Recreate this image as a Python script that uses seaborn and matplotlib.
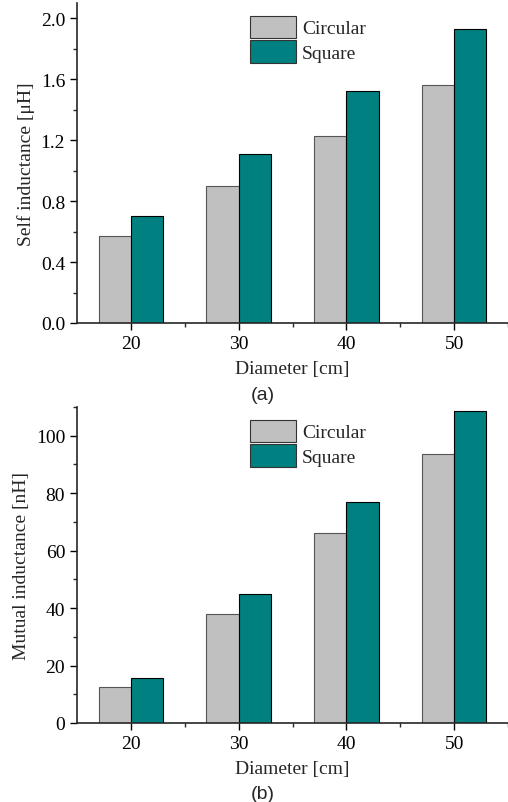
import pandas as pd
import matplotlib
matplotlib.use("Agg")
import matplotlib.pyplot as plt
import seaborn as sns
from matplotlib.ticker import MultipleLocator, FixedLocator

# data
diameters = [20, 30, 40, 50]
shapes = ["Circular", "Square"]
self_circular = [0.57, 0.90, 1.23, 1.56]
self_square = [0.70, 1.11, 1.52, 1.93]
mutual_circular = [12.7, 37.8, 66.3, 93.7]
mutual_square = [15.5, 44.9, 77.1, 108.5]

colors = {"Circular": "#C0C0C0", "Square": "#008080"}

sns.set_style("ticks")
plt.rcParams["font.family"] = ["Liberation Serif", "DejaVu Serif"]
plt.rcParams["font.size"] = 14


def make_df(circ, sq):
    return pd.DataFrame({
        "Diameter": diameters * 2,
        "Shape": ["Circular"] * 4 + ["Square"] * 4,
        "Value": circ + sq,
    })


fig = plt.figure(figsize=(5.08, 8.03), dpi=100)
W, H = 508, 803
ax1 = fig.add_axes([77 / W, 1 - 324 / H, 431 / W, 320 / H])
ax2 = fig.add_axes([77 / W, 1 - 724 / H, 431 / W, 316 / H])

panels = [
    (ax1, make_df(self_circular, self_square), "Self inductance [μH]", (0, 2.1), 0.4, 0.2, "(a)"),
    (ax2, make_df(mutual_circular, mutual_square), "Mutual inductance [nH]", (0, 110), 20, 10, "(b)"),
]

for ax, df, ylabel, ylim, major, minor, tag in panels:
    sns.barplot(data=df, x="Diameter", y="Value", hue="Shape", native_scale=True,
                width=0.6, palette=colors, hue_order=shapes, ax=ax,
                edgecolor="black", linewidth=0.8, saturation=1, errorbar=None)
    # circular bars have a grey outline in the original
    for bar in ax.patches[:4]:
        bar.set_edgecolor("#555555")
    ax.set_xlim(15, 55)
    ax.set_ylim(*ylim)
    ax.set_xticks(diameters)
    ax.xaxis.set_minor_locator(FixedLocator([25, 35, 45, 55]))
    ax.yaxis.set_major_locator(MultipleLocator(major))
    ax.yaxis.set_minor_locator(MultipleLocator(minor))
    if major < 1:
        ax.yaxis.set_major_formatter(matplotlib.ticker.FormatStrFormatter("%.1f"))
    ax.tick_params(which="major", direction="out", length=5, width=1, labelsize=14, colors="black")
    ax.tick_params(which="minor", direction="out", length=3, width=1)
    for s in ["top", "right"]:
        ax.spines[s].set_visible(False)
    for s in ["left", "bottom"]:
        ax.spines[s].set_linewidth(1.2)
    ax.set_xlabel("Diameter [cm]", fontsize=14, labelpad=6)
    ax.set_ylabel(ylabel, fontsize=14, labelpad=4)
    ax.text(0.432, -0.222, tag, transform=ax.transAxes, ha="center", va="center",
            fontsize=14, family=["Liberation Sans", "DejaVu Sans"])
    leg = ax.legend(loc="upper left", bbox_to_anchor=(0.36, 1.015), frameon=False,
                    fontsize=14, handlelength=2.4, handleheight=1.4,
                    labelspacing=0.1, handletextpad=0.3)
    for h in leg.legend_handles:
        h.set_edgecolor("#333333")

fig.savefig("out.png", dpi=100)
